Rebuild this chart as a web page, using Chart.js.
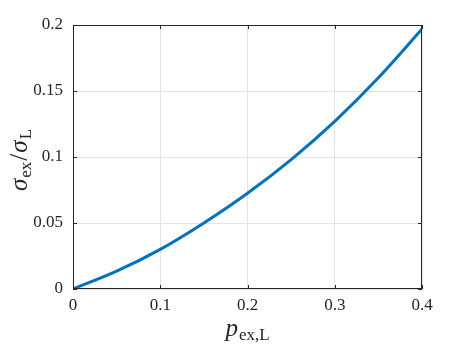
<!DOCTYPE html>
<html>
<head>
<meta charset="utf-8">
<script src="https://cdn.jsdelivr.net/npm/chart.js@4.4.0/dist/chart.umd.min.js"></script>
<style>
  html, body { margin: 0; padding: 0; background: #fff; }
  #wrap { width: 469px; height: 346px; }
</style>
</head>
<body>
<div id="wrap"><canvas id="c" width="469" height="346"></canvas></div>
<script>
// ===== DATA =====
const pValues = [0, 0.05, 0.1, 0.15, 0.2, 0.25, 0.3, 0.35, 0.4];
const sigmaRatio = [0, 0.0135, 0.030, 0.050, 0.0725, 0.098, 0.127, 0.160, 0.197];
const xTicks = [0, 0.1, 0.2, 0.3, 0.4];
const xTickLabels = ["0", "0.1", "0.2", "0.3", "0.4"];
const yTicks = [0, 0.05, 0.1, 0.15, 0.2];
const yTickLabels = ["0", "0.05", "0.1", "0.15", "0.2"];

const AXIS = "#262626";
const SERIF = '"Liberation Serif", "DejaVu Serif", serif';

// draws a row of text runs (for sub-scripts) centred at cx,cy
function drawRuns(ctx, runs, cx, cy, angle) {
  ctx.save();
  ctx.translate(cx, cy);
  ctx.rotate(angle);
  let total = 0;
  runs.forEach(r => { ctx.font = r.font; total += ctx.measureText(r.text).width + (r.gap || 0); });
  let x = -total / 2;
  ctx.fillStyle = AXIS;
  ctx.textBaseline = "alphabetic";
  runs.forEach(r => {
    ctx.font = r.font;
    ctx.fillText(r.text, x, r.dy || 0);
    x += ctx.measureText(r.text).width + (r.gap || 0);
  });
  ctx.restore();
}

const boxPlugin = {
  id: "box",
  afterDraw(chart) {
    const { ctx, chartArea: a, scales } = chart;
    ctx.save();
    ctx.strokeStyle = AXIS;
    ctx.lineWidth = 1;
    ctx.strokeRect(a.left + 0.5, a.top + 0.5, a.right - a.left - 1, a.bottom - a.top - 1);
    // inward ticks on all four sides
    const len = 4;
    ctx.beginPath();
    xTicks.forEach(v => {
      const px = Math.round(scales.x.getPixelForValue(v)) + 0.5;
      ctx.moveTo(px, a.bottom); ctx.lineTo(px, a.bottom - len);
      ctx.moveTo(px, a.top); ctx.lineTo(px, a.top + len);
    });
    yTicks.forEach(v => {
      const py = Math.round(scales.y.getPixelForValue(v)) + 0.5;
      ctx.moveTo(a.left, py); ctx.lineTo(a.left + len, py);
      ctx.moveTo(a.right, py); ctx.lineTo(a.right - len, py);
    });
    ctx.stroke();
    ctx.restore();

    // axis titles
    const big = "italic 25px " + SERIF;
    const sub = "17px " + SERIF;
    drawRuns(ctx, [
      { text: "p", font: big, gap: 1 },
      { text: "ex,L", font: sub, dy: 4 }
    ], (a.left + a.right) / 2, 336, 0);
    drawRuns(ctx, [
      { text: "σ", font: big, gap: 1 },
      { text: "ex", font: sub, dy: 4, gap: 1 },
      { text: "/", font: "25px " + SERIF, gap: 1 },
      { text: "σ", font: big, gap: 1 },
      { text: "L", font: sub, dy: 4 }
    ], 27, (a.top + a.bottom) / 2 + 3, -Math.PI / 2);
  }
};

const ctx = document.getElementById("c").getContext("2d");

new Chart(ctx, {
  type: "line",
  data: {
    datasets: [{
      data: pValues.map((p, i) => ({ x: p, y: sigmaRatio[i] })),
      borderColor: "#0072BD",
      borderWidth: 3,
      pointRadius: 0,
      cubicInterpolationMode: "monotone",
      fill: false
    }]
  },
  options: {
    responsive: false,
    animation: false,
    layout: { padding: { left: 0, right: 47, top: 25, bottom: 0 } },
    plugins: { legend: { display: false }, tooltip: { enabled: false } },
    scales: {
      x: {
        type: "linear",
        min: 0, max: 0.4,
        afterBuildTicks: s => { s.ticks = xTicks.map(v => ({ value: v })); },
        afterFit: s => { s.height = 57; },
        grid: { color: "#e3e3e3", drawTicks: false },
        border: { display: false },
        ticks: {
          padding: 6,
          color: AXIS,
          font: { family: SERIF, size: 17 },
          callback: (v, i) => xTickLabels[i]
        }
      },
      y: {
        type: "linear",
        min: 0, max: 0.2,
        afterBuildTicks: s => { s.ticks = yTicks.map(v => ({ value: v })); },
        afterFit: s => { s.width = 73; },
        grid: { color: "#e3e3e3", drawTicks: false },
        border: { display: false },
        ticks: {
          padding: 10,
          color: AXIS,
          font: { family: SERIF, size: 17 },
          callback: (v, i) => yTickLabels[i]
        }
      }
    }
  },
  plugins: [boxPlugin]
});
</script>
</body>
</html>
